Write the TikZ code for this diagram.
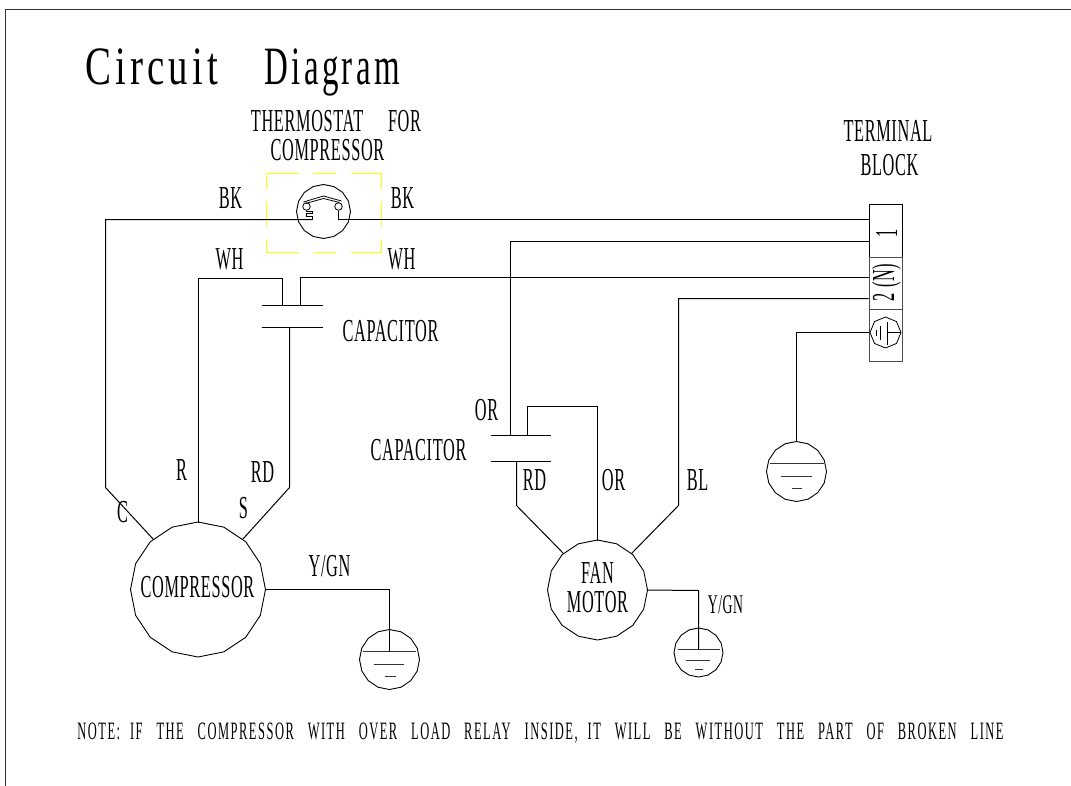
\documentclass[tikz,border=0pt]{standalone}
\usepackage{fontspec}
\setmainfont[FakeStretch=0.51,LetterSpace=2]{Liberation Serif}
\newfontfamily\titlefont[FakeStretch=0.72,LetterSpace=7.5]{Liberation Serif}
\newfontfamily\titlefontb[FakeStretch=0.61,LetterSpace=6]{Liberation Serif}
\newfontfamily\notefont[FakeStretch=0.5,LetterSpace=6,WordSpace=3.0]{Liberation Serif}
\usetikzlibrary{shapes.geometric}
\definecolor{dashyellow}{RGB}{255,255,0}
\tikzset{
  wire/.style={draw=black,line width=1pt,line join=miter},
  poly/.style={draw=black,line width=0.9pt,regular polygon,regular polygon sides=16,shape border rotate=11.25,inner sep=0pt},
  lab/.style={inner sep=0pt,font=\fontsize{32}{32}\selectfont},
  plate/.style={draw=black,line width=1pt},
}
\begin{document}
\begin{tikzpicture}[x=1pt,y=-1pt]
\useasboundingbox (-0.5,-0.5) rectangle (1070.5,784.5);
% frame
\coordinate (fb) at (5,785); \coordinate (ftl) at (5,9); \coordinate (fr) at (1071,9);
\draw[line width=1pt,draw=black!80] (fb) -- (ftl) -- (fr);
% title
\node[inner sep=0pt,font=\fontsize{54}{54}\selectfont,anchor=base west] (title) at (85,84) {{\titlefont Circuit}\hspace{47pt}{\titlefontb Diagram}};
\node[lab] (tt1) at (335.5,120.5) {THERMOSTAT\hspace{20pt} FOR};
\node[lab] (tt2) at (327,150) {COMPRESSOR};
\node[lab] (tb1) at (887.5,130) {TERMINAL};
\node[lab] (tb2) at (889,165) {BLOCK};
% thermostat
\node[poly,minimum size=54pt] (th) at (323,211) {};
\draw[draw=dashyellow,line width=1.5pt] (266,173) -- (298,173) (312,173) -- (335,173) (350,173) -- (381,173) -- (381,188) (381,200) -- (381,225) (381,238) -- (381,252) -- (350,252) (335,252) -- (312,252) (298,252) -- (266,252) -- (266,238) (266,225) -- (266,200) (266,188) -- (266,173);
\node[circle,draw,line width=0.8pt,inner sep=0pt,minimum size=7.5pt] (tl) at (306,206) {};
\node[circle,draw,line width=0.8pt,inner sep=0pt,minimum size=7.5pt] (tr) at (338,206) {};
\coordinate (tm) at (323,195.5);
\coordinate (tm2) at (323,198);
\coordinate (tz) at (311.7,219);
\draw[line width=0.8pt] (303,201.5) -- (tm) -- (341,200.5) (305,203) -- (tm2) -- (339,202);
\draw[line width=0.8pt] (tl.south) -- (306,211.3) -- (311.7,211.3) -- (311.7,213) -- (306,213) -- (306,216.3) -- (311.7,216.3) -- (tz);
% terminal block
\node[draw,line width=1.1pt,minimum width=33pt,minimum height=53pt,inner sep=0pt,anchor=north west] (t1) at (868,203) {};
\node[draw,line width=0.9pt,draw=black!70,minimum width=33pt,minimum height=52pt,inner sep=0pt,anchor=north west] (t2) at (868,256) {};
\node[draw,line width=0.9pt,draw=black!70,minimum width=33pt,minimum height=52pt,inner sep=0pt,anchor=north west] (t3) at (868,308) {};
\node[lab,rotate=90] (n1) at (886,233) {1};
\node[lab,rotate=90] (n2) at (886,282) {2\,(N)};
\node[draw=black,line width=0.8pt,regular polygon,regular polygon sides=8,shape border rotate=22.5,inner sep=0pt,minimum size=31pt] (te) at (885,332) {};
\coordinate (te1) at (887,321); \coordinate (te2) at (887,344); \coordinate (te3) at (880,325); \coordinate (te4) at (880,339); \coordinate (te5) at (876,329.5); \coordinate (te6) at (876,335);
\draw[line width=0.8pt] (te1) -- (te2) (te3) -- (te4) (te5) -- (te6) (887,332) -- (te.east);
% compressor
\node[poly,minimum size=135pt] (comp) at (197.5,589) {};
\node[lab] (comptxt) at (197,587) {COMPRESSOR};
\coordinate (cC) at (153,539); \coordinate (cR) at (198,522); \coordinate (cS) at (242,539);
% fan motor
\node[poly,minimum size=100pt] (fan) at (597,589.5) {};
\node[lab] (fantxt1) at (597,572) {FAN};
\node[lab] (fantxt2) at (597,602) {MOTOR};
\coordinate (fL) at (563,553); \coordinate (fT) at (597,540); \coordinate (fR) at (631,553);
% capacitors
\coordinate (c1a) at (261,305); \coordinate (c1b) at (322,305); \coordinate (c1c) at (261,327); \coordinate (c1d) at (322,327);
\coordinate (c2a) at (490,435); \coordinate (c2b) at (550,435); \coordinate (c2c) at (490,461); \coordinate (c2d) at (550,461);
\draw[plate] (c1a) -- (c1b) (c1c) -- (c1d) (c2a) -- (c2b) (c2c) -- (c2d);
% grounds
\node[poly,minimum size=60pt] (g1) at (389,659) {};
\node[poly,minimum size=60pt] (g2) at (796,471) {};
\node[poly,minimum size=49pt] (g3) at (698,652) {};
\draw[line width=1pt,draw=black!80] (362,651) -- (415,651) (373,664) -- (403,664) (384,676) -- (395,676);
\draw[line width=1pt,draw=black!80] (769,463) -- (823,463) (780,476) -- (811,476) (791,488) -- (801,488);
\draw[line width=1pt,draw=black!80] (677,649) -- (719,649) (685,660) -- (709,660) (694,669) -- (702,669);
% wires
\draw[wire] (cC) -- (105,487) -- (105,219) -- (tz);
\draw[wire] (tr.south) -- (338,219) -- (t1.west |- 338,219);
\draw[wire] (cR) -- (198,278) -- (282,278) -- (282,305);
\draw[wire] (300,305) -- (300,277) -- (t2.west |- 300,277);
\draw[wire] (289,327) -- (289,487) -- (cS);
\draw[wire] (510,435) -- (510,241) -- (t1.west |- 510,241);
\draw[wire] (527,435) -- (527,406) -- (597,406) -- (fT);
\draw[wire] (516,461) -- (516,505) -- (fL);
\draw[wire] (fR) -- (678,505) -- (678,298) -- (t2.west |- 678,298);
\draw[wire] (g2.north) -- (796,332) -- (t3.west |- 796,332);
\draw[wire] (comp.east) -- (389,589) -- (389,651);
\draw[wire] (fan.east) -- (698,590) -- (698,649);
% labels
\node[lab] (l1) at (230,198) {BK};
\node[lab] (l2) at (402,198) {BK};
\node[lab] (l3) at (229,259) {WH};
\node[lab] (l4) at (401,259) {WH};
\node[lab] (l5) at (390,331) {CAPACITOR};
\node[lab] (l6) at (486,410) {OR};
\node[lab] (l7) at (418,450) {CAPACITOR};
\node[lab] (l8) at (534,480) {RD};
\node[lab] (l9) at (613,480) {OR};
\node[lab] (l10) at (697,480) {BL};
\node[lab] (l11) at (181,470) {R};
\node[lab] (l12) at (262,472) {RD};
\node[lab] (l13) at (243,508) {S};
\node[lab] (l14) at (122,512) {C};
\node[lab] (l15) at (329,566) {Y/GN};
\node[lab,font=\fontsize{27}{27}\selectfont] (l16) at (725,604) {Y/GN};
\node[inner sep=0pt,font=\notefont\fontsize{25}{25}\selectfont] (note) at (540,733) {NOTE:\hspace{-4pt} IF THE COMPRESSOR WITH OVER LOAD RELAY INSIDE,\hspace{-4pt} IT WILL BE WITHOUT THE PART OF BROKEN LINE};
\end{tikzpicture}
\end{document}
